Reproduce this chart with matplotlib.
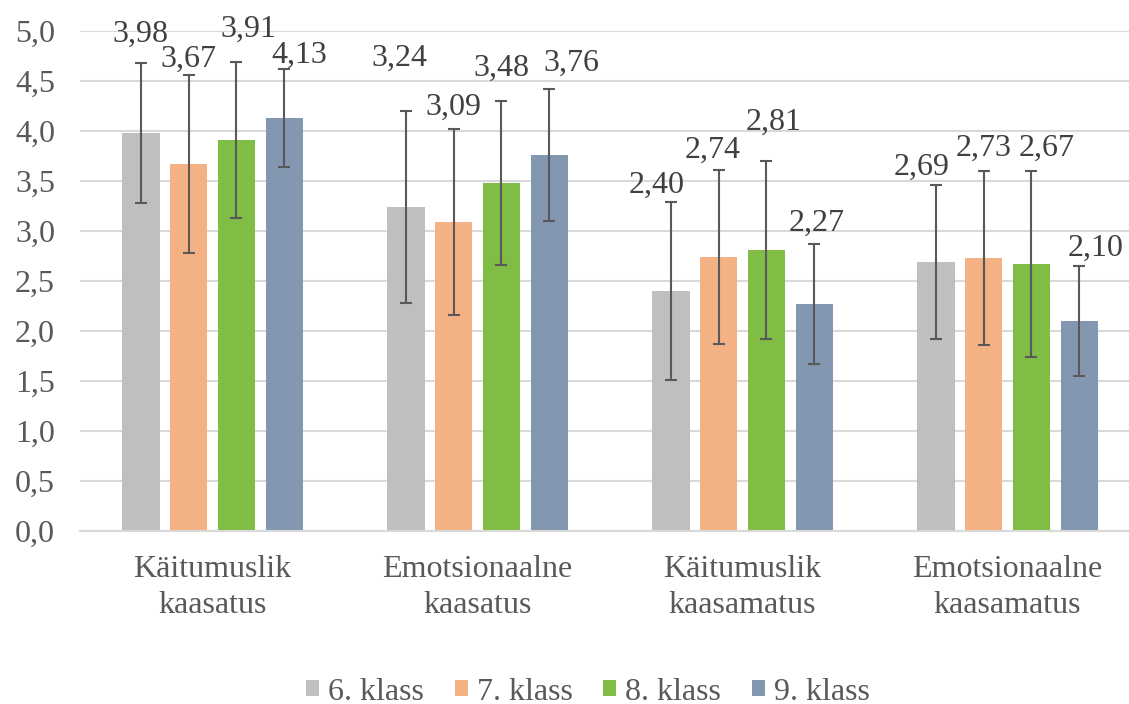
import numpy as np
import matplotlib
matplotlib.use('Agg')
from matplotlib import pyplot as plt
from matplotlib.patches import Patch

## data
categories = ['Käitumuslik\nkaasatus', 'Emotsionaalne\nkaasatus',
              'Käitumuslik\nkaasamatus', 'Emotsionaalne\nkaasamatus']
series = ['6. klass', '7. klass', '8. klass', '9. klass']
means = [
    [3.98, 3.24, 2.40, 2.69],   # 6. klass
    [3.67, 3.09, 2.74, 2.73],   # 7. klass
    [3.91, 3.48, 2.81, 2.67],   # 8. klass
    [4.13, 3.76, 2.27, 2.10],   # 9. klass
]
errors = [
    [0.70, 0.96, 0.89, 0.77],
    [0.89, 0.93, 0.87, 0.87],
    [0.78, 0.82, 0.89, 0.93],
    [0.49, 0.66, 0.60, 0.55],
]
ytick_values = [0.0, 0.5, 1.0, 1.5, 2.0, 2.5, 3.0, 3.5, 4.0, 4.5, 5.0]

## label placement (the labels were dragged by hand in the original)
label_y = [
    [4.97, 4.73, 3.46, 3.64],
    [4.72, 4.24, 3.81, 3.83],
    [5.02, 4.63, 4.09, 3.83],
    [4.76, 4.68, 3.08, 2.83],
]
label_dx = [
    [0.0, -0.023, -0.053, -0.053],
    [0.0, 0.0, -0.023, 0.0],
    [0.045, 0.0, 0.026, 0.057],
    [0.057, 0.083, 0.008, 0.060],
]

colors = ['#BFBFBF', '#F4B183', '#7FBD45', '#8497B0']
textcol = '#404040'
tickcol = '#595959'
fs = 23

plt.rcParams['font.family'] = ['Liberation Serif', 'DejaVu Serif']

fig = plt.figure(figsize=(11.29, 7.04), dpi=100)
ax = fig.add_axes([80 / 1129, 173 / 704, 1060 / 1129, 500 / 704])

x = np.arange(len(categories))
width = 0.143
step = 0.181

for i in range(len(series)):
    pos = x + (i - 1.5) * step
    ax.bar(pos, means[i], width, color=colors[i], zorder=2)
    ax.errorbar(pos, means[i], yerr=errors[i], fmt='none', ecolor='#595959',
                elinewidth=1.5, capsize=4.3, capthick=1.5, zorder=3)
    for j in range(len(categories)):
        ax.text(pos[j] + label_dx[i][j], label_y[i][j],
                ('%.2f' % means[i][j]).replace('.', ','),
                ha='center', va='center', fontsize=fs, color=textcol, zorder=4)

ax.set_xlim(-0.5, len(categories) - 0.5)
ax.set_ylim(0, 5)
ax.set_yticks(ytick_values)
ax.set_yticklabels([('%.1f' % v).replace('.', ',') for v in ytick_values])
ax.set_xticks(x)
ax.set_xticklabels(categories, linespacing=1.35)
ax.tick_params(axis='both', length=0, labelsize=fs, colors=tickcol)
ax.tick_params(axis='y', pad=18)
ax.tick_params(axis='x', pad=17)

ax.yaxis.grid(True, color='#D9D9D9', linewidth=1.5, zorder=0)
ax.set_axisbelow(True)
for s in ['top', 'right', 'left']:
    ax.spines[s].set_visible(False)
ax.spines['bottom'].set_color('#D9D9D9')
ax.spines['bottom'].set_linewidth(1.5)

handles = [Patch(facecolor=c) for c in colors]
fig.legend(handles, series, loc='center', bbox_to_anchor=(588 / 1129, 1 - 692 / 704),
           ncol=4, frameon=False, fontsize=fs, handlelength=0.4, handleheight=0.4,
           handletextpad=0.28, columnspacing=0.97, labelcolor=tickcol)

fig.savefig('out.png', dpi=100)
